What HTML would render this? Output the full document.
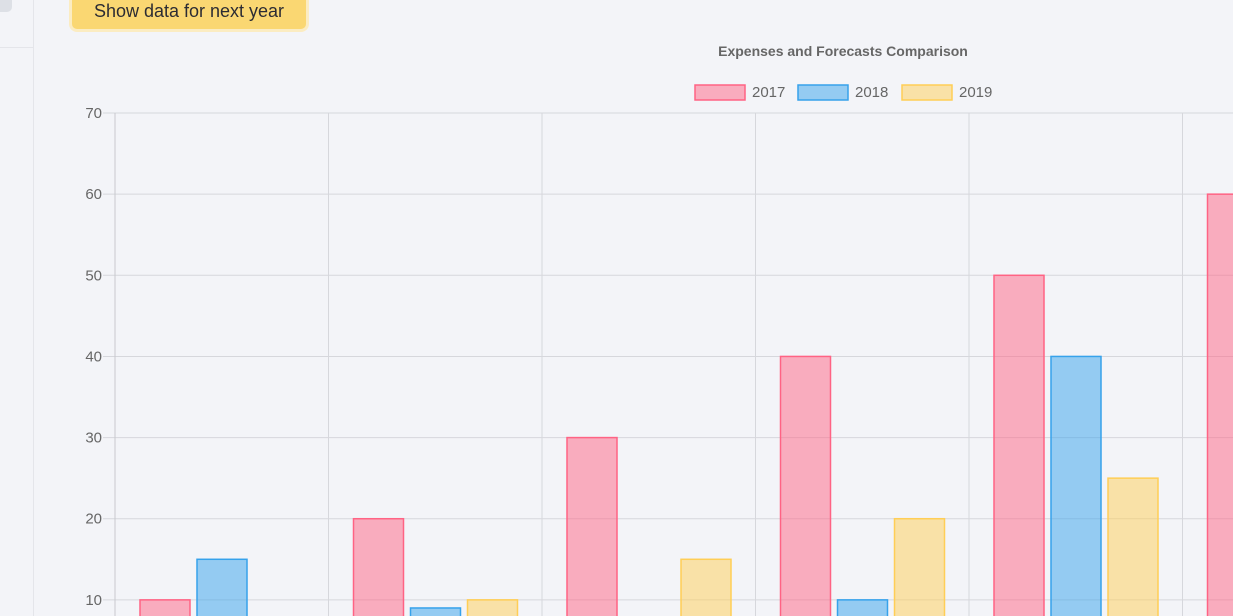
<!DOCTYPE html>
<html><head><meta charset="utf-8"><style>
html,body{margin:0;padding:0;width:1233px;height:616px;overflow:hidden;background:#f3f4f8;font-family:"Liberation Sans",sans-serif;}
#side{position:absolute;left:0;top:0;width:33px;height:616px;border-right:1px solid #e4e5ea;}
#sideline{position:absolute;left:0;top:47px;width:33px;height:1px;background:#e4e5ea;}
#sidebtn{position:absolute;left:-8px;top:-8px;width:20px;height:20px;border-radius:5px;background:#dde0e6;}
#btn{position:absolute;left:72px;top:-6px;width:234px;height:35px;background:#fad772;border-radius:5px;box-shadow:0 0 0 3px #fbecc2;color:#2c2c33;font-size:18px;line-height:34px;text-align:center;box-sizing:border-box;}
svg{position:absolute;left:0;top:0;overflow:hidden;}
</style></head><body>
<div id="side"><div id="sideline"></div><div id="sidebtn"></div></div>
<div id="btn">Show data for next year</div>
<svg id="chart" width="1233" height="616"></svg>
<script>
const categories=["Jan","Feb","Mar","Apr","May","Jun"];
const series2017=[10,20,30,40,50,60];
const series2018=[15,9,5,10,40,45];
const series2019=[5,10,15,20,25,30];
const yTicks=[10,20,30,40,50,60,70];
const seriesNames=["2017","2018","2019"];
const fills=["rgba(255,99,132,0.5)","rgba(54,162,235,0.5)","rgba(255,206,86,0.5)"];
const strokes=["#ff6384","#36a2eb","#ffce56"];
const NS="http://www.w3.org/2000/svg";
const svg=document.getElementById('chart');
const x0=115,catW=213.5,y0=681,pxPerUnit=8.114;
function y(v){return y0-v*pxPerUnit;}
function xCat(i){return x0+i*catW;}
function mk(t,a,p){const e=document.createElementNS(NS,t);for(const k in a)e.setAttribute(k,a[k]);(p||svg).appendChild(e);return e;}
yTicks.forEach(v=>{
  const l=mk('line',{x1:103,x2:1233,y1:y(v),y2:y(v),stroke:'#d6d7dc','stroke-width':1});
  
  
  const t=mk('text',{x:102,y:y(v)+5,'text-anchor':'end','font-size':15,fill:'#666'});
  t.textContent=v;
  
  
});
for(let i=0;i<=categories.length;i++){
  const l=mk('line',{x1:xCat(i),x2:xCat(i),y1:y(70),y2:616,stroke:i===0?'#c8c9ce':'#d6d7dc','stroke-width':1});
  
  
}
const all=[series2017,series2018,series2019];
all.forEach((s,si)=>{
  s.forEach((v,ci)=>{
    const bx=xCat(ci)+25+si*57;
    const h=Math.min(y0-y(v),616-y(v)+2);
    const r=mk('rect',{x:bx,y:y(v),width:50,height:Math.max(h,0),fill:fills[si],stroke:strokes[si],'stroke-width':1.5});
    
    
  });
});
const title=mk('text',{x:843,y:56,'text-anchor':'middle','font-size':14,'font-weight':'bold',fill:'#666'});
title.textContent='Expenses and Forecasts Comparison';


const legX=[695,798,902];
seriesNames.forEach((n,i)=>{
  const r=mk('rect',{x:legX[i],y:85,width:50,height:15,fill:fills[i],stroke:strokes[i],'stroke-width':1.5});
  
  
  const t=mk('text',{x:legX[i]+57,y:97,'font-size':15,fill:'#666'});
  t.textContent=n;
  
  
});
</script>
</body></html>
